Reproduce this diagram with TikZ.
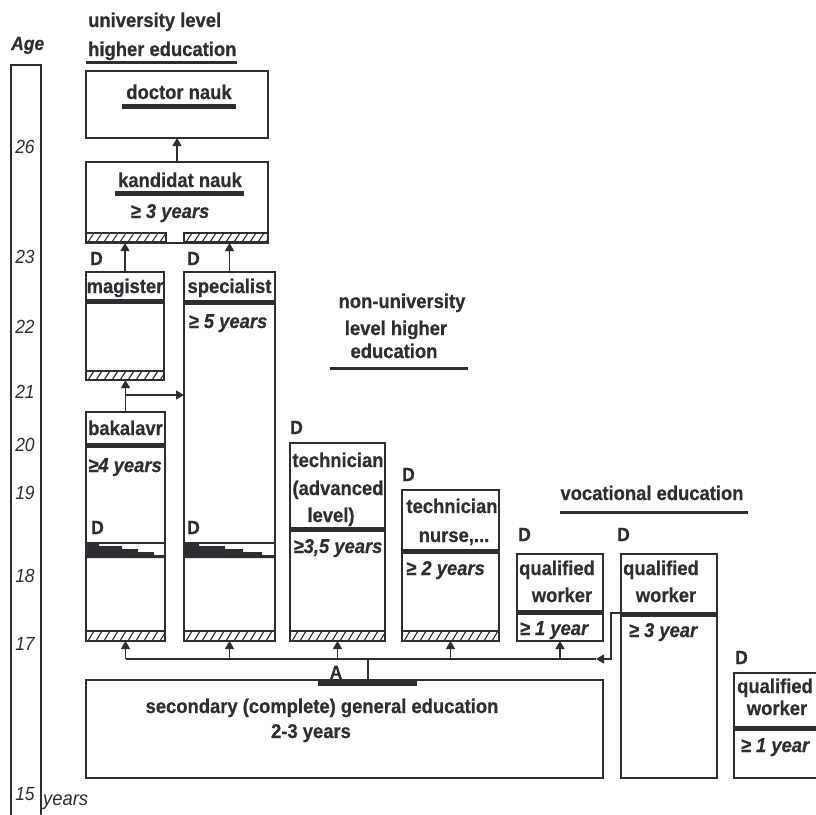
\documentclass[tikz,border=0pt]{standalone}
\usepackage{fontspec}
\setmainfont{Liberation Sans}
\newfontfamily\narrowf{Liberation Sans}[FakeStretch=0.92, BoldFeatures={FakeBold=0.5}, BoldItalicFeatures={FakeBold=0.4}]
\usetikzlibrary{arrows.meta,calc}
\definecolor{ink}{RGB}{45,45,50}
\newcommand\hatchbar[4]{%
  \begin{scope}
    \clip (#1,#2) rectangle (#3,#4);
    \foreach \k in {0,8,...,200} \draw[draw=ink,line width=1.1pt] ({#1+\k-6},#4) -- ({#1+\k},#2);
  \end{scope}
  \draw[draw=ink,line width=1.2pt] (#1,#2) rectangle (#3,#4);}
\begin{document}
\begin{tikzpicture}[x=1pt,y=-1pt,
  box/.style={draw=ink, line width=1.6pt, rectangle, inner sep=0pt, outer sep=0pt, anchor=north west},
  lab/.style={font=\narrowf\fontsize{20}{22}\selectfont\bfseries, text=ink, inner sep=0pt, anchor=base},
  yrs/.style={font=\narrowf\fontsize{20}{22}\selectfont\bfseries\itshape, text=ink, inner sep=0pt, anchor=base},
  agel/.style={font=\narrowf\fontsize{19}{21}\selectfont\itshape, text=ink, inner sep=0pt, anchor=base},
  dl/.style={font=\narrowf\fontsize{19}{21}\selectfont\bfseries, text=ink, inner sep=0pt, anchor=base west},
  sepline/.style={draw=ink, line width=5pt},
  ul/.style={draw=ink, line width=3pt},
  thin/.style={draw=ink, line width=1.4pt},
  arr/.style={draw=ink, line width=1.4pt, -{Triangle[length=8pt,width=9pt]}},
]
\useasboundingbox (0,0) rectangle (816,814);
\clip (0,0) rectangle (816,814);

% age axis
\draw[thin] (11,820) -- (11,65) -- (41,65) -- (41,820);
\node[agel, font=\narrowf\fontsize{19}{21}\selectfont\bfseries\itshape, anchor=base west] (age) at (11,50) {Age};
\node[agel] (a26) at (25,153) {26};
\node[agel] (a23) at (25,263) {23};
\node[agel] (a22) at (25,333) {22};
\node[agel] (a21) at (25,398) {21};
\node[agel] (a20) at (25,451) {20};
\node[agel] (a19) at (25,499) {19};
\node[agel] (a18) at (25,582) {18};
\node[agel] (a17) at (25,650) {17};
\node[agel] (a15) at (25,800) {15};
\node[agel, font=\narrowf\fontsize{20}{22}\selectfont\itshape, anchor=base west] (yrs) at (43,805) {years};

% headings
\node[lab, anchor=base west] (uni1) at (88,27) {university level};
\node[lab, anchor=base west] (uni2) at (88,56) {higher education};
\draw[ul] (86,62) -- (237,62);
\node[lab] (nu1) at (402,308) {non-university};
\node[lab] (nu2) at (396,335) {level higher};
\node[lab] (nu3) at (394,358) {education};
\draw[ul] (330,368) -- (468,368);
\node[lab] (voc) at (652,500) {vocational education};
\draw[ul] (560,512) -- (748,512);

% boxes
\node[box, minimum width=182pt, minimum height=67pt] (doc) at (86,71) {};
\node[box, minimum width=182pt, minimum height=81pt] (kand) at (86,162) {};
\node[box, minimum width=78pt, minimum height=108pt] (mag) at (86,272) {};
\node[box, minimum width=91pt, minimum height=369pt] (spec) at (184,272) {};
\node[box, minimum width=79pt, minimum height=229pt] (bak) at (86,412) {};
\node[box, minimum width=95pt, minimum height=198pt] (tadv) at (290,443) {};
\node[box, minimum width=97pt, minimum height=151pt] (tnur) at (402,490) {};
\node[box, minimum width=86pt, minimum height=87pt] (qw1) at (517,554) {};
\node[box, minimum width=96pt, minimum height=224pt] (qw2) at (621,554) {};
\node[box, minimum width=106pt, minimum height=105pt] (qw3) at (734,673) {};
\node[box, minimum width=517pt, minimum height=98pt] (sec) at (86,680) {};

% doctor nauk
\node[lab] (tdoc) at (179,99) {doctor nauk};
\draw[sepline] (122,106) -- (236,106);
% kandidat nauk
\node[lab] (tkand) at (180,187) {kandidat nauk};
\draw[sepline] (115,193) -- (244,193);
\node[yrs] (ykand) at (170,218) {≥ 3 years};
\hatchbar{86}{233}{166}{242}
\hatchbar{184}{233}{268}{242}
\node[dl] (d1) at (90,265) {D};
\node[dl] (d2) at (187,265) {D};

% magister
\node[lab] (tmag) at (125,293) {magister};
\draw[sepline] (86,301) -- (164,301);
\hatchbar{86}{371}{164}{380}
% specialist
\node[lab] (tspec) at (229.5,293) {specialist};
\draw[sepline] (184,302) -- (275,302);
\node[yrs] (yspec) at (228,328) {≥ 5 years};
\node[dl] (d4) at (187,534) {D};
\draw[thin] (184,543) -- (275,543);
\fill[ink] (184,543) -- (199,543) -- (199,546) -- (225,546) -- (225,549) -- (243,549) -- (243,552) -- (262,552) -- (262,555) -- (275,555) -- (275,558) -- (184,558) -- cycle;
\draw[thin] (184,557.5) -- (275,557.5);
\hatchbar{184}{631}{275}{641}
% bakalavr
\node[lab] (tbak) at (125.5,435) {bakalavr};
\draw[sepline] (86,445) -- (165,445);
\node[yrs] (ybak) at (125,472) {≥4 years};
\node[dl] (d3) at (91,534) {D};
\draw[thin] (86,543) -- (165,543);
\fill[ink] (86,543) -- (99,543) -- (99,546) -- (122,546) -- (122,549) -- (138,549) -- (138,552) -- (154,552) -- (154,555) -- (165,555) -- (165,558) -- (86,558) -- cycle;
\draw[thin] (86,557.5) -- (165,557.5);
\hatchbar{86}{631}{165}{641}

% technician advanced
\node[dl] (d5) at (290,434) {D};
\node[lab] (ta1) at (338,467) {technician};
\node[lab] (ta2) at (338,495) {(advanced};
\node[lab] (ta3) at (331,522) {level)};
\draw[sepline] (290,529) -- (385,529);
\node[yrs] (yta) at (338,553) {≥3,5 years};
\hatchbar{290}{631}{385}{641}
% technician nurse
\node[dl] (d6) at (402,481) {D};
\node[lab] (tn1) at (452,513) {technician};
\node[lab] (tn2) at (454,542) {nurse,...};
\draw[sepline] (402,551) -- (499,551);
\node[yrs, anchor=base west] (ytn) at (406,575) {≥ 2 years};
\hatchbar{402}{631}{499}{641}

% qualified workers
\node[dl] (d7) at (518,541) {D};
\node[lab] (q1a) at (557,575) {qualified};
\node[lab] (q1b) at (562,602) {worker};
\draw[sepline] (517,612) -- (603,612);
\node[yrs] (yq1) at (554,635) {≥ 1 year};
\node[dl] (d8) at (617,541) {D};
\node[lab] (q2a) at (661,575) {qualified};
\node[lab] (q2b) at (666,602) {worker};
\draw[sepline] (621,614) -- (717,614);
\node[yrs] (yq2) at (663,637) {≥ 3 year};
\node[dl] (d9) at (735,664) {D};
\node[lab] (q3a) at (775,693) {qualified};
\node[lab] (q3b) at (777,715) {worker};
\draw[sepline] (734,728) -- (830,728);
\node[yrs] (yq3) at (775,752) {≥ 1 year};

% secondary
\node[lab] (s1) at (322,713) {secondary (complete) general education};
\node[lab] (s2) at (311,738) {2-3 years};
\draw[draw=ink, line width=6pt] (318,683) -- (417,683);
\node[dl, anchor=base] (alab) at (336,679) {A};

% connectors
\draw[arr] (kand.north) -- (doc.south);
\draw[arr] (mag.north) -- (mag.north |- kand.south);
\draw[arr] (spec.north) -- (spec.north |- kand.south);
\draw[arr] (bak.north) -- (bak.north |- mag.south);
\coordinate (br) at (125.5,395);
\draw[arr] (br) -- (br -| spec.west);
\coordinate (busL) at (125.5,659);
\coordinate (busR) at (596,659);
\draw[thin] (busL) -- (busR);
\foreach \n in {bak,spec,tadv,tnur,qw1} \draw[arr] (\n.south |- busL) -- (\n.south);
\coordinate (abar) at (368,680);
\draw[thin] (abar) -- (abar |- busL);
\coordinate (q2s) at (621,613);
\draw[arr] (q2s) -- (611,613) -- (611,659) -- (busR);
\end{tikzpicture}
\end{document}
